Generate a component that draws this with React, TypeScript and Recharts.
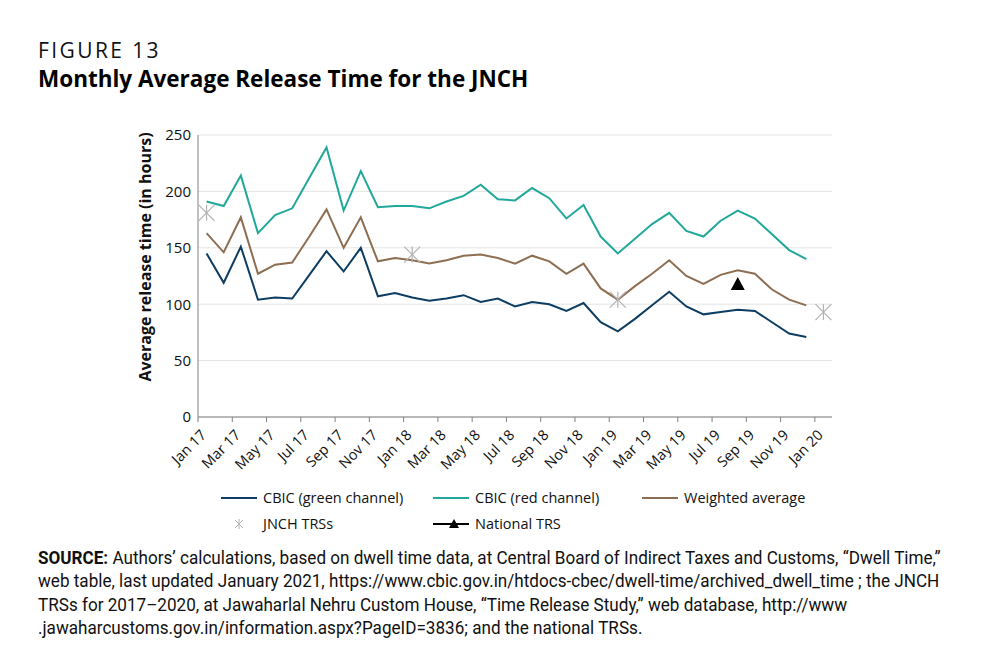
import React from 'react';
import { ComposedChart, Line, Scatter, XAxis, YAxis, CartesianGrid } from 'recharts';

// month categories, Jan 17 .. Jan 20 (the last one only carries a JNCH TRS point)
const months = [
  'Jan 17', 'Feb 17', 'Mar 17', 'Apr 17', 'May 17', 'Jun 17', 'Jul 17', 'Aug 17', 'Sep 17', 'Oct 17', 'Nov 17', 'Dec 17',
  'Jan 18', 'Feb 18', 'Mar 18', 'Apr 18', 'May 18', 'Jun 18', 'Jul 18', 'Aug 18', 'Sep 18', 'Oct 18', 'Nov 18', 'Dec 18',
  'Jan 19', 'Feb 19', 'Mar 19', 'Apr 19', 'May 19', 'Jun 19', 'Jul 19', 'Aug 19', 'Sep 19', 'Oct 19', 'Nov 19', 'Dec 19',
  'Jan 20',
];

const greenChannel = [
  145, 119, 151, 104, 106, 105, 126, 147, 129, 150, 107, 110,
  106, 103, 105, 108, 102, 105, 98, 102, 100, 94, 101, 84,
  76, 87, 99, 111, 98, 91, 93, 95, 94, 84, 74, 71,
];

const redChannel = [
  191, 187, 214, 163, 179, 185, 212, 239, 183, 218, 186, 187,
  187, 185, 191, 196, 206, 193, 192, 203, 194, 176, 188, 160,
  145, 158, 171, 181, 165, 160, 174, 183, 176, 162, 148, 140,
];

const weightedAvg = [
  163, 146, 177, 127, 135, 137, 160, 184, 150, 177, 138, 141,
  139, 136, 139, 143, 144, 141, 136, 143, 138, 127, 136, 114,
  104, 116, 127, 139, 125, 118, 126, 130, 127, 113, 104, 99,
];

// JNCH TRS studies: month index -> value
const jnchMonths = [0, 12, 24, 36];
const jnchValues = [181, 144, 104, 93];

// National TRS
const nationalMonths = [31];
const nationalValues = [118];

const yTicks = [0, 50, 100, 150, 200, 250];
const xTicks = months.map((_, i) => i).filter((i) => i % 2 === 0);

const sourceLines = [
  'Authors’ calculations, based on dwell time data, at Central Board of Indirect Taxes and Customs, “Dwell Time,”',
  'web table, last updated January 2021, https://www.cbic.gov.in/htdocs-cbec/dwell-time/archived_dwell_time ; the JNCH',
  'TRSs for 2017–2020, at Jawaharlal Nehru Custom House, “Time Release Study,” web database, http://www',
  '.jawaharcustoms.gov.in/information.aspx?PageID=3836; and the national TRSs.',
];

const BLUE = '#0d3d62';
const TEAL = '#21a89a';
const BROWN = '#8d6e52';
const FONT = '"Open Sans", Lato, sans-serif';

const lineData = greenChannel.map((g, i) => ({
  x: i + 0.5,
  green: g,
  red: redChannel[i],
  weighted: weightedAvg[i],
}));

const jnchData = jnchMonths.map((m, i) => ({ x: m + 0.5, jnch: jnchValues[i] }));
const nationalData = nationalMonths.map((m, i) => ({ x: m + 0.5, national: nationalValues[i] }));

const Asterisk = (props: any) => {
  const { cx, cy } = props;
  const r = 8;
  return (
    <g stroke="#b3b3b3" strokeWidth={1.2}>
      <line x1={cx - r} y1={cy - r} x2={cx + r} y2={cy + r} />
      <line x1={cx - r} y1={cy + r} x2={cx + r} y2={cy - r} />
      <line x1={cx} y1={cy - r} x2={cx} y2={cy + r} />
    </g>
  );
};

const Triangle = (props: any) => {
  const { cx, cy } = props;
  return <polygon points={`${cx},${cy - 7} ${cx + 7},${cy + 6} ${cx - 7},${cy + 6}`} fill="#000" />;
};

const XTick = (props: any) => {
  const { x, y, payload } = props;
  return (
    <g transform={`translate(${x + 9},${y + 12})`}>
      <text textAnchor="end" transform="rotate(-45)" fontSize={14.5} fill="#111" fontFamily={FONT}>
        {months[payload.value]}
      </text>
    </g>
  );
};

const YLabel = () => (
  <text
    x={145}
    y={257}
    transform="rotate(-90, 145, 257)"
    textAnchor="middle"
    dominantBaseline="central"
    fontSize={16}
    fontWeight={700}
    fill="#111"
    fontFamily={FONT}
  >
    Average release time (in hours)
  </text>
);

const LegendLine = ({ color, marker }: { color: string; marker?: boolean }) => (
  <svg width={36} height={12} style={{ marginRight: 6 }}>
    <line x1={0} y1={6} x2={36} y2={6} stroke={color} strokeWidth={2} />
    {marker && <polygon points="21,1 26,10 16,10" fill="#000" />}
  </svg>
);

const LegendStar = () => (
  <svg width={36} height={12} style={{ marginRight: 6 }}>
    <g stroke="#b3b3b3" strokeWidth={1}>
      <line x1={14} y1={2} x2={22} y2={10} />
      <line x1={14} y1={10} x2={22} y2={2} />
      <line x1={18} y1={1} x2={18} y2={11} />
    </g>
  </svg>
);

const legendItem: React.CSSProperties = {
  position: 'absolute',
  display: 'flex',
  alignItems: 'center',
  fontSize: 14.5,
  color: '#111',
  whiteSpace: 'nowrap',
};

export default function App() {
  return (
    <div style={{ position: 'relative', width: 1000, height: 652, background: '#fff', fontFamily: FONT, overflow: 'hidden' }}>
      <style>{'body{margin:0}'}</style>
      <div style={{ position: 'absolute', left: 38, top: 38, fontSize: 21, letterSpacing: 2.4, color: '#111', lineHeight: '24px' }}>
        FIGURE 13
      </div>
      <div style={{ position: 'absolute', left: 38, top: 66, fontSize: 22.5, fontWeight: 700, color: '#000', lineHeight: '26px' }}>
        Monthly Average Release Time for the JNCH
      </div>

      <div style={{ position: 'absolute', left: 0, top: 0 }}>
        <ComposedChart width={1000} height={480} margin={{ top: 135, right: 168, left: 148, bottom: 13 }}>
          <CartesianGrid vertical={false} stroke="#e4e4e4" />
          <XAxis
            type="number"
            dataKey="x"
            domain={[0, 37]}
            ticks={xTicks}
            interval={0}
            tick={<XTick />}
            tickSize={5}
            height={50}
            axisLine={{ stroke: '#808080' }}
            tickLine={{ stroke: '#808080' }}
          />
          <YAxis
            type="number"
            domain={[0, 250]}
            ticks={yTicks}
            width={50}
            tickLine={false}
            tickSize={5}
            tickMargin={2}
            axisLine={{ stroke: '#808080' }}
            tick={{ fontSize: 15, fill: '#111', fontFamily: FONT }}
            label={{ content: () => <YLabel /> }}
          />
          <Line data={lineData} dataKey="green" stroke={BLUE} strokeWidth={2} dot={false} isAnimationActive={false} />
          <Line data={lineData} dataKey="red" stroke={TEAL} strokeWidth={2} dot={false} isAnimationActive={false} />
          <Line data={lineData} dataKey="weighted" stroke={BROWN} strokeWidth={2} dot={false} isAnimationActive={false} />
          <Scatter data={jnchData} dataKey="jnch" shape={<Asterisk />} isAnimationActive={false} />
          <Scatter data={nationalData} dataKey="national" shape={<Triangle />} isAnimationActive={false} />
        </ComposedChart>
      </div>

      <div style={{ ...legendItem, left: 221, top: 488 }}>
        <LegendLine color={BLUE} />
        CBIC (green channel)
      </div>
      <div style={{ ...legendItem, left: 433, top: 488 }}>
        <LegendLine color={TEAL} />
        CBIC (red channel)
      </div>
      <div style={{ ...legendItem, left: 642, top: 488 }}>
        <LegendLine color={BROWN} />
        Weighted average
      </div>
      <div style={{ ...legendItem, left: 221, top: 514 }}>
        <LegendStar />
        JNCH TRSs
      </div>
      <div style={{ ...legendItem, left: 433, top: 514 }}>
        <LegendLine color="#000" marker />
        National TRS
      </div>

      <div
        style={{
          position: 'absolute',
          left: 38,
          top: 546,
          fontFamily: 'Roboto, sans-serif',
          fontSize: 18,
          lineHeight: '23.4px',
          color: '#111',
          whiteSpace: 'nowrap',
          transform: 'scaleX(0.95)',
          transformOrigin: 'left top',
        }}
      >
        {sourceLines.map((line, i) => (
          <div key={i}>
            {i === 0 && <b>SOURCE: </b>}
            {line}
          </div>
        ))}
      </div>
    </div>
  );
}
